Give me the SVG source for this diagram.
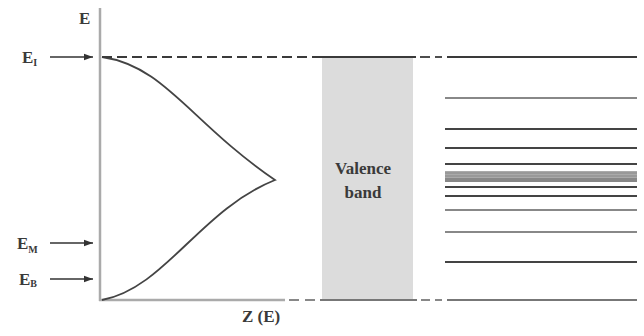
<svg xmlns="http://www.w3.org/2000/svg" width="644" height="336" viewBox="0 0 644 336">
<style>
text{font-family:"Liberation Serif","Times New Roman",serif;fill:#3a3a3a;font-weight:bold}
.lbl{font-size:17px}
.sub{font-size:10px;font-weight:bold}
.arr{stroke:#333;stroke-width:1.6;fill:none}
.axis{stroke:#aaa;stroke-width:2.5;fill:none}
.dk{stroke:#3a3a3a;stroke-width:1.8;fill:none}
.lv{stroke:#444;stroke-width:2;fill:none}
.lt{stroke:#888;stroke-width:2;fill:none}
</style>
<defs>
<marker id="ah" viewBox="0 0 10 10" refX="10" refY="5" markerWidth="9" markerHeight="9" markerUnits="userSpaceOnUse" orient="auto">
<path d="M0,1.5 L10,5 L0,8.5 Z" fill="#333"/>
</marker>
</defs>
<g id="band">
<rect x="322" y="57" width="91" height="243" fill="#dcdcdc"/>
<text class="lbl" x="363" y="174" text-anchor="middle">Valence</text>
<text class="lbl" x="363" y="198" text-anchor="middle">band</text>
</g>
<g id="axes">
<line class="axis" x1="100" y1="8" x2="100" y2="301"/>
<line class="axis" x1="99" y1="300" x2="285" y2="300"/>
<text class="lbl" x="79" y="24">E</text>
<text class="lbl" x="242" y="322">Z (E)</text>
</g>
<g id="dos-curve">
<path d="M102,57 C165,66 190,122 275,180 C200,210 165,288 102,300" stroke="#444" stroke-width="1.8" fill="none"/>
</g>
<g id="labels">
<g id="EI"><text class="lbl" x="22" y="63">E<tspan class="sub" dy="3">I</tspan></text></g>
<g id="EM"><text class="lbl" x="17" y="249">E<tspan class="sub" dy="4">M</tspan></text></g>
<g id="EB"><text class="lbl" x="19" y="285">E<tspan class="sub" dy="2">B</tspan></text></g>
</g>
<g id="connectors">
<line class="arr" x1="50" y1="57" x2="93" y2="57" marker-end="url(#ah)"/>
<line class="arr" x1="50" y1="243" x2="93" y2="243" marker-end="url(#ah)"/>
<line class="arr" x1="50" y1="279" x2="93" y2="279" marker-end="url(#ah)"/>
</g>
<g id="top-line">
<line class="dk" x1="102" y1="57" x2="318" y2="57" stroke-dasharray="10 5"/>
<line class="dk" x1="318" y1="57" x2="416" y2="57"/>
<line class="dk" x1="420" y1="57" x2="430" y2="57"/>
<line class="dk" x1="435" y1="57" x2="442" y2="57"/>
<line class="dk" x1="447" y1="57" x2="637" y2="57"/>
</g>
<g id="bottom-line">
<line class="lt" x1="289" y1="300" x2="299" y2="300"/>
<line class="lt" x1="305" y1="300" x2="315" y2="300"/>
<line class="lt" x1="320" y1="300" x2="417" y2="300" style="stroke:#777"/>
<line class="lt" x1="421" y1="300" x2="430" y2="300"/>
<line class="lt" x1="435" y1="300" x2="442" y2="300"/>
<line class="lt" x1="447" y1="300" x2="637" y2="300" style="stroke:#777"/>
</g>
<g id="levels">
<line class="lt" x1="445" y1="98" x2="637" y2="98"/>
<line class="lv" x1="445" y1="129" x2="637" y2="129"/>
<line class="lv" x1="445" y1="148" x2="637" y2="148"/>
<line class="lv" x1="445" y1="164" x2="637" y2="164"/>
<rect x="445" y="171" width="192" height="11" fill="#aaa"/>
<line class="lv" x1="445" y1="173" x2="637" y2="173" style="stroke-width:1;stroke:#888"/>
<line class="lv" x1="445" y1="176" x2="637" y2="176" style="stroke-width:1;stroke:#888"/>
<line class="lv" x1="445" y1="179" x2="637" y2="179" style="stroke-width:1;stroke:#666"/>
<line class="lv" x1="445" y1="181" x2="637" y2="181" style="stroke-width:1;stroke:#666"/>
<line class="lv" x1="445" y1="187" x2="637" y2="187"/>
<line class="lv" x1="445" y1="196" x2="637" y2="196"/>
<line class="lt" x1="445" y1="210" x2="637" y2="210"/>
<line class="lt" x1="445" y1="232" x2="637" y2="232"/>
<line class="lv" x1="445" y1="262" x2="637" y2="262"/>
</g>
</svg>
